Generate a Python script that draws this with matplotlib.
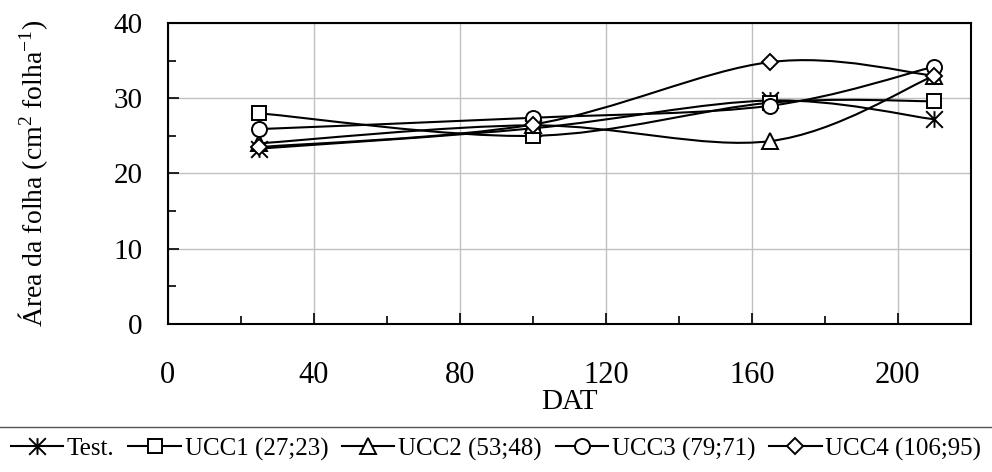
import numpy as np
import matplotlib
matplotlib.use('Agg')
import matplotlib.pyplot as plt
from matplotlib.path import Path
from matplotlib.patches import PathPatch
from matplotlib.lines import Line2D
from matplotlib.ticker import MultipleLocator

plt.rcParams['font.family'] = ['Liberation Serif', 'DejaVu Serif']
plt.rcParams['mathtext.fontset'] = 'custom'
plt.rcParams['mathtext.rm'] = 'Liberation Serif'
plt.rcParams['mathtext.it'] = 'Liberation Serif:italic'

# days after transplanting
dat = [25, 100, 165, 210]

test = [23.3, 26.0, 29.7, 27.2]
ucc1 = [28.0, 25.0, 29.4, 29.6]
ucc2 = [24.0, 26.4, 24.3, 33.0]
ucc3 = [25.9, 27.4, 29.0, 34.2]
ucc4 = [23.5, 26.5, 34.8, 33.0]

labels = ['Test.', 'UCC1 (27;23)', 'UCC2 (53;48)', 'UCC3 (79;71)', 'UCC4 (106;95)']

# asterisk-like marker: an X crossed by a vertical bar
star = Path([(-1, -1), (1, 1), (-1, 1), (1, -1), (0, -1), (0, 1)],
            [Path.MOVETO, Path.LINETO, Path.MOVETO, Path.LINETO, Path.MOVETO, Path.LINETO])

markers = [(star, 12), ('s', 10.3), ('^', 12), ('o', 10.8), ('D', 8.5)]


def smooth_path(xs, ys, t=1 / 6):
    # cubic bezier through the points, catmull-rom style tangents
    p = np.column_stack([xs, ys]).astype(float)
    verts = [p[0]]
    codes = [Path.MOVETO]
    n = len(p)
    for i in range(n - 1):
        p0 = p[i - 1] if i > 0 else p[i]
        p3 = p[i + 2] if i + 2 < n else p[i + 1]
        c1 = p[i] + (p[i + 1] - p0) * t
        c2 = p[i + 1] - (p3 - p[i]) * t
        verts += [c1, c2, p[i + 1]]
        codes += [Path.CURVE4] * 3
    return Path(verts, codes)


fig = plt.figure(figsize=(9.92, 4.72), dpi=100)
ax = fig.add_axes([0.169, 0.3136, 0.8096, 0.6377])

handles = []
for ys, (m, ms), lab in zip([test, ucc1, ucc2, ucc3, ucc4], markers, labels):
    ax.add_patch(PathPatch(smooth_path(dat, ys), facecolor='none', edgecolor='black',
                           lw=1.5, zorder=3))
    ax.plot(dat, ys, linestyle='none', marker=m, ms=ms, mfc='white', mec='black',
            mew=1.4, zorder=4)
    handles.append(Line2D([], [], color='black', lw=1.5, marker=m, ms=ms,
                          mfc='white', mec='black', mew=1.4, label=lab))

ax.set_xlim(0, 220)
ax.set_ylim(0, 40)
ax.xaxis.set_major_locator(MultipleLocator(40))
ax.xaxis.set_minor_locator(MultipleLocator(20))
ax.yaxis.set_major_locator(MultipleLocator(10))
ax.yaxis.set_minor_locator(MultipleLocator(5))
ax.grid(True, which='major', color='#c0c0c0', lw=1)
ax.set_axisbelow(True)
ax.tick_params(which='major', direction='in', length=8, width=1.2)
ax.tick_params(which='minor', direction='in', length=6, width=1.2)
ax.tick_params(axis='x', which='major', labelsize=22, pad=27)
ax.tick_params(axis='y', which='major', labelsize=21, pad=18)
for s in ax.spines.values():
    s.set_linewidth(1.5)

ax.set_xlabel('DAT', fontsize=21, labelpad=-1)
ax.set_ylabel('Área da folha (cm$^{2}$ folha$^{-1}$)', fontsize=20)
ax.yaxis.set_label_coords(-0.147, 0.5)

fig.add_artist(Line2D([0, 1], [1 - 427 / 472, 1 - 427 / 472], transform=fig.transFigure,
                      color='#555555', lw=1))
fig.legend(handles=handles, loc='center', bbox_to_anchor=(0.5, 1 - 449 / 472), ncol=5,
           frameon=False, fontsize=18, handlelength=2.1, handletextpad=0.15,
           columnspacing=0.55, borderaxespad=0, borderpad=0)

fig.savefig('out.png', dpi=100)
